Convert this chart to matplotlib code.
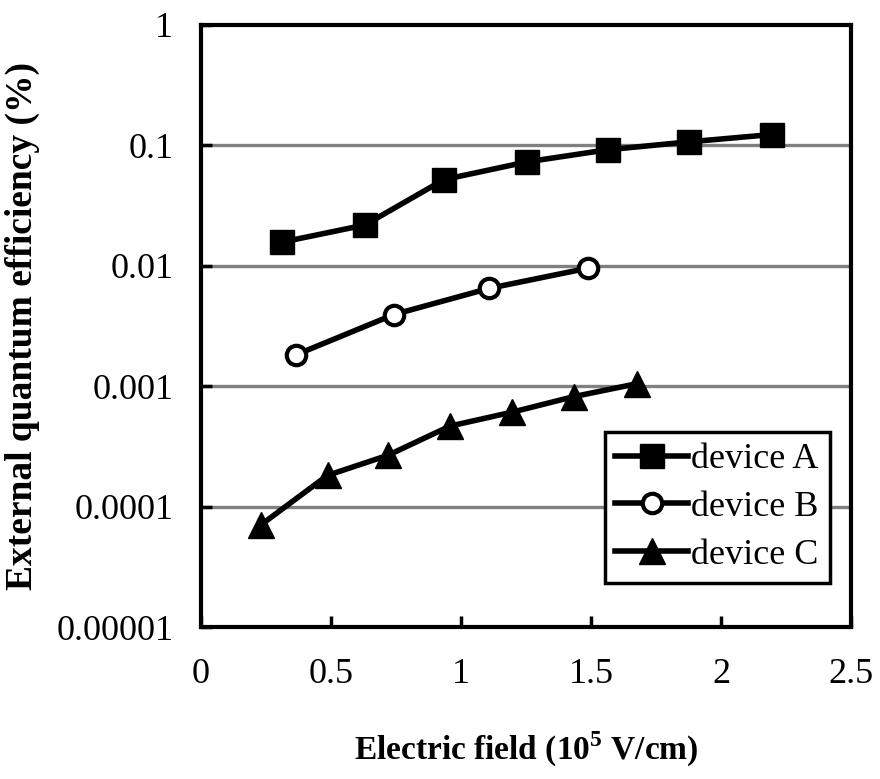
import matplotlib.pyplot as plt

# datos
field_a = [0.31, 0.63, 0.935, 1.255, 1.565, 1.878, 2.195]
eqe_a = [0.0157, 0.0218, 0.052, 0.073, 0.092, 0.107, 0.123]

field_b = [0.367, 0.742, 1.109, 1.488]
eqe_b = [0.00183, 0.00394, 0.0065, 0.00955]

field_c = [0.232, 0.487, 0.719, 0.958, 1.198, 1.434, 1.677]
eqe_c = [7.1e-5, 1.82e-4, 2.67e-4, 4.67e-4, 6.1e-4, 8.2e-4, 1.05e-3]

x_ticks = [0, 0.5, 1, 1.5, 2, 2.5]
x_labels = ['0', '0.5', '1', '1.5', '2', '2.5']
y_ticks = [1e-5, 1e-4, 1e-3, 1e-2, 1e-1, 1]
y_labels = ['0.00001', '0.0001', '0.001', '0.01', '0.1', '1']

plt.rcParams['font.family'] = ['Liberation Serif', 'DejaVu Serif']
plt.rcParams['mathtext.fontset'] = 'custom'
plt.rcParams['mathtext.rm'] = 'Liberation Serif'
plt.rcParams['mathtext.bf'] = 'Liberation Serif:bold'

fig = plt.figure(figsize=(8.8, 7.79), dpi=100)
ax = fig.add_axes([0.2284, 0.195, 0.7386, 0.773])

lw = 4
ax.plot(field_a, eqe_a, color='black', lw=lw, marker='s', ms=17,
        mfc='black', mec='black', label='device A', zorder=3)
ax.plot(field_b, eqe_b, color='black', lw=lw, marker='o', ms=14,
        mfc='white', mec='black', mew=3, label='device B', zorder=3)
ax.plot(field_c, eqe_c, color='black', lw=lw, marker='^', ms=19,
        mfc='black', mec='black', label='device C', zorder=3)

ax.set_yscale('log')
ax.set_xlim(0, 2.5)
ax.set_ylim(1e-5, 1)
ax.set_xticks(x_ticks)
ax.set_xticklabels(x_labels)
ax.set_yticks(y_ticks)
ax.set_yticklabels(y_labels)
ax.minorticks_off()

# lineas de grilla grises en cada decada
for yv in y_ticks[1:-1]:
    ax.axhline(yv, color='#808080', lw=2.4, zorder=1)

ax.tick_params(axis='both', direction='in', length=8, width=2.5,
               labelsize=26, color='black')
ax.tick_params(axis='x', pad=22)
ax.tick_params(axis='y', pad=20)
for s in ax.spines.values():
    s.set_linewidth(3)

ax.set_xlabel(r'Electric field (10$^{\mathbf{5}}$ V/cm)', fontsize=24,
              fontweight='bold', labelpad=28)
ax.set_ylabel('External quantum efficiency (%)', fontsize=27,
              fontweight='bold', labelpad=12)

leg = ax.legend(loc='lower right', bbox_to_anchor=(0.967, 0.074),
                fontsize=26, frameon=True, fancybox=False, framealpha=1,
                handlelength=2.0, handletextpad=0.1, borderpad=0.3,
                labelspacing=0.4, borderaxespad=0)
leg.get_frame().set_edgecolor('black')
leg.get_frame().set_linewidth(2.5)

plt.savefig('out.png', dpi=100)
